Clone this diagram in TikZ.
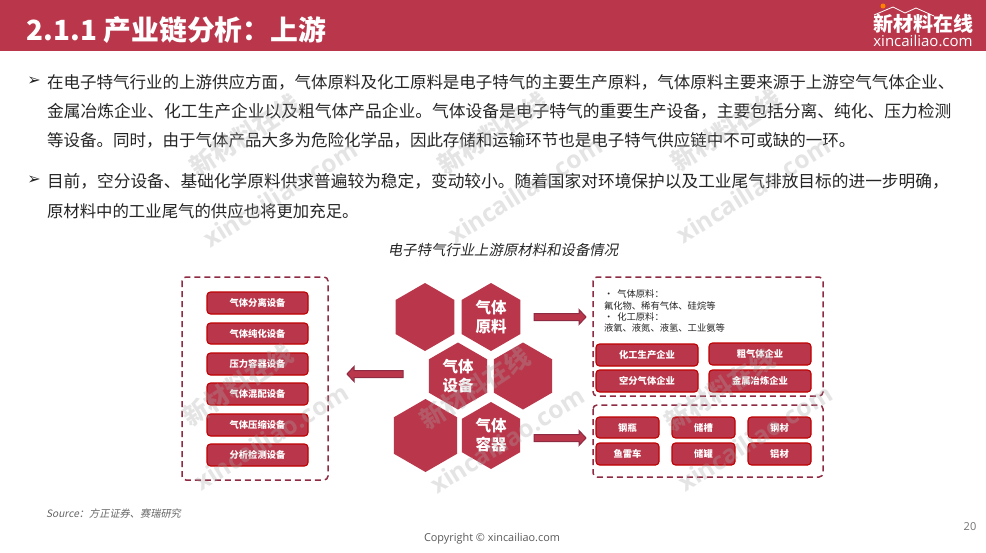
\documentclass[tikz,border=0pt]{standalone}
\usepackage{fontspec}
\usetikzlibrary{shapes.geometric}
\setmainfont{Noto Sans CJK SC}
\newfontfamily\cjkit[FakeSlant=0.2]{Noto Sans CJK SC}
\newfontfamily\latinf{Open Sans}
\newfontfamily\djv{DejaVu Sans}
\definecolor{brand}{HTML}{BA374B}
\definecolor{edgec}{HTML}{C00000}
\definecolor{dashc}{HTML}{8E2A42}
\definecolor{ink}{HTML}{262626}
\definecolor{wm}{HTML}{A8A8A8}
\newcommand{\fs}[1]{\fontsize{#1}{#1}\selectfont}
\newcommand{\hexfont}{\bfseries\fontsize{15.5}{19}\selectfont}
\tikzset{
  x=1pt,y=-1pt,
  every node/.style={inner sep=0pt,outer sep=0pt},
  para/.style={anchor=west,text=ink,font=\fs{#1}},
  tickmark/.style={anchor=center,text=ink,font=\djv\fs{16}},
  dbox/.style={draw=dashc,line width=1.5pt,dash pattern=on 6pt off 4pt,rounded corners=4pt},
  rbox/.style={draw=edgec,fill=brand,line width=1.1pt,rounded corners=3.5pt},
  hexa/.style={regular polygon,regular polygon sides=6,shape border rotate=30,fill=brand,minimum size=#1},
  hextxt/.style={text=white,align=center,font=\hexfont},
  barrow/.style={draw=dashc,fill=brand,line width=1pt,line join=miter},
  smalltxt/.style={anchor=west,text=ink,font=\fs{9.3}},
  wmark/.style={text=wm,opacity=.3,rotate=33,font=\bfseries\fs{25}},
  wmurl/.style={text=wm,opacity=.3,rotate=32,font=\latinf\bfseries\fs{24.5}},
}
\newcommand{\blockarrow}[3]{% tail x, tip x, y
  \pgfmathsetmacro{\hx}{#2+(#1>#2?7:-7)}
  \draw[barrow] (#1,#3-3.5) -- (\hx,#3-3.5) -- (\hx,#3-7.5) -- (#2,#3) -- (\hx,#3+7.5) -- (\hx,#3+3.5) -- (#1,#3+3.5) -- cycle;
}
\begin{document}
\begin{tikzpicture}
\useasboundingbox (0,0) rectangle (986,552);
\fill[white] (0,0) rectangle (986,552);
\fill[brand] (0,0) rectangle (986,51);
\node[anchor=west,text=white,font=\bfseries\fs{27.8}] (title) at (27,30) {2.1.1 产业链分析：上游};
% logo
\coordinate (r1) at (874,15); \coordinate (r2) at (893,7); \coordinate (r3) at (905,13);
\coordinate (r4) at (916,8); \coordinate (r5) at (934,16);
\draw[white,line width=.8pt] (r1) -- (r2) -- (r3) -- (r4) -- (r5);
\fill[orange] (883,6) circle (2.5);
\node[text=white,font=\bfseries\fs{20}] (logo) at (923,24) {新材料在线};
\node[text=white,font=\latinf\fs{15}] (logourl) at (923,41) {xincailiao.com};
% paragraphs
\node[tickmark] (t1) at (34,81) {➢};
\node[para=16.5] (p1) at (47,82) {在电子特气行业的上游供应方面，气体原料及化工原料是电子特气的主要生产原料，气体原料主要来源于上游空气气体企业、};
\node[para=16.75] (p2) at (47,111) {金属冶炼企业、化工生产企业以及粗气体产品企业。气体设备是电子特气的重要生产设备，主要包括分离、纯化、压力检测};
\node[para=16.5] (p3) at (47,140) {等设备。同时，由于气体产品大多为危险化学品，因此存储和运输环节也是电子特气供应链中不可或缺的一环。};
\node[tickmark] (t2) at (34,180) {➢};
\node[para=16.7] (p4) at (47,181) {目前，空分设备、基础化学原料供求普遍较为稳定，变动较小。随着国家对环境保护以及工业尾气排放目标的进一步明确，};
\node[para=16.4] (p5) at (47,211) {原材料中的工业尾气的供应也将更加充足。};
\node[text=ink,font=\cjkit\fs{14.4}] (cap) at (503,250) {电子特气行业上游原材料和设备情况};
% dashed frames
\draw[dbox] (182,277) rectangle (328,480);
\draw[dbox] (593,277) rectangle (823,396);
\draw[dbox] (593,405) rectangle (823,477);
% left boxes
\foreach \n/\a/\b/\s in {l1/292/314/气体分离设备,l2/323/344/气体纯化设备,l3/353/375/压力容器设备,l4/383/405/气体混配设备,l5/414/436/气体压缩设备,l6/444/466/分析检测设备}{
  \draw[rbox] (207,\a) rectangle (308,\b);
  \node[text=white,font=\bfseries\fs{9.3}] (\n) at (257.5,{(\a+\b)/2}) {\s};
}
% hexagons
\node[hexa=68pt] (h1) at (425,317) {};
\node[hexa=68pt] (h2) at (491,317) {};
\node[hextxt] (h2t) at (h2.center) {气体\\原料};
\node[hexa=67pt] (h3) at (458,376) {};
\node[hextxt] (h3t) at (h3.center) {气体\\设备};
\node[hexa=67pt] (h4) at (523,376) {};
\node[hexa=73pt] (h5) at (425.5,435.5) {};
\node[hexa=67pt] (h6) at (491,435.5) {};
\node[hextxt] (h6t) at (h6.center) {气体\\容器};
% block arrows
\blockarrow{403}{347}{374}
\blockarrow{534}{586}{317}
\blockarrow{534}{586}{438}
% right top text
\node[smalltxt] (s1) at (604,294) {•\hspace{4pt}气体原料：};
\node[smalltxt] (s2) at (604,305.5) {氟化物、稀有气体、硅烷等};
\node[smalltxt] (s3) at (604,317) {•\hspace{4pt}化工原料：};
\node[smalltxt] (s4) at (604,328) {液氧、液氮、液氢、工业氨等};
% right boxes
\foreach \n/\xa/\ya/\xb/\yb/\s in {
 c1/596/344/698/366/化工生产企业, c2/709/343/811/365/粗气体企业,
 c3/596/370/698/392/空分气体企业, c4/709/370/811/392/金属冶炼企业,
 d1/596/417/659/438/钢瓶, d2/672/417/735/438/储槽, d3/748/417/811/438/钢材,
 d4/596/443/659/465/鱼雷车, d5/672/443/735/465/储罐, d6/748/443/811/465/铝材}{
  \draw[rbox] (\xa,\ya) rectangle (\xb,\yb);
  \node[text=white,font=\bfseries\fs{9.3}] (\n) at ({(\xa+\xb)/2},{(\ya+\yb)/2}) {\s};
}
% footer
\node[anchor=west,text=black!60,font=\cjkit\fs{10.2}] (src) at (46,514) {Source：方正证券、赛瑞研究};
\node[text=black!55,font=\latinf\fs{11}] (pg) at (970,527) {20};
\node[text=black!65,font=\latinf\fs{10.9}] (copy) at (492,539) {Copyright © xincailiao.com};
% watermarks
\foreach \i/\x/\y in {1/245/135,2/493/133,3/726/130,4/238/385,5/475/388,6/720/390}{
  \node[wmark] (w\i) at (\x,\y) {新材料在线};
}
\foreach \i/\x/\y in {1/280/194,2/525/190,3/753/190,4/271/437,5/507/440,6/755/438}{
  \node[wmurl] (u\i) at (\x,\y) {xincailiao.com};
}
\end{tikzpicture}
\end{document}
